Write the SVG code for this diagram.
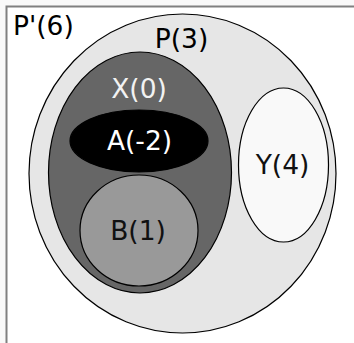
<svg xmlns="http://www.w3.org/2000/svg" width="354" height="343" viewBox="0 0 354 343">
<style>
.set{stroke:#000;stroke-width:1.2}
.lbl{font-family:"DejaVu Sans",sans-serif;font-size:26.5px;text-anchor:middle}
</style>
<rect x="0" y="0" width="354" height="343" fill="#f9f9f9"/>
<g id="frame">
<rect x="6.5" y="6.5" width="360" height="360" fill="#fff" stroke="#808080" stroke-width="2"/>
<text class="lbl" x="13" y="35" style="text-anchor:start" fill="#000">P'(6)</text>
</g>
<g id="P">
<ellipse class="set" cx="182.5" cy="173.5" rx="153.5" ry="159.5" fill="#e6e6e6"/>
<text class="lbl" x="181.5" y="48" fill="#000">P(3)</text>
</g>
<g id="X">
<ellipse class="set" cx="140" cy="172.5" rx="91.5" ry="120.5" fill="#666"/>
<text class="lbl" x="139" y="98" fill="#f2f2f2">X(0)</text>
</g>
<g id="A">
<ellipse class="set" cx="139" cy="141" rx="69" ry="31" fill="#000"/>
<text class="lbl" x="139.5" y="150" fill="#fff">A(-2)</text>
</g>
<g id="B">
<ellipse class="set" cx="139" cy="230.5" rx="59" ry="55.5" fill="#999"/>
<text class="lbl" x="138" y="240" fill="#111">B(1)</text>
</g>
<g id="Y">
<ellipse class="set" cx="283.5" cy="165" rx="45" ry="77" fill="#f9f9f9"/>
<text class="lbl" x="282.5" y="174" fill="#111">Y(4)</text>
</g>
<g id="connectors"/>
</svg>
